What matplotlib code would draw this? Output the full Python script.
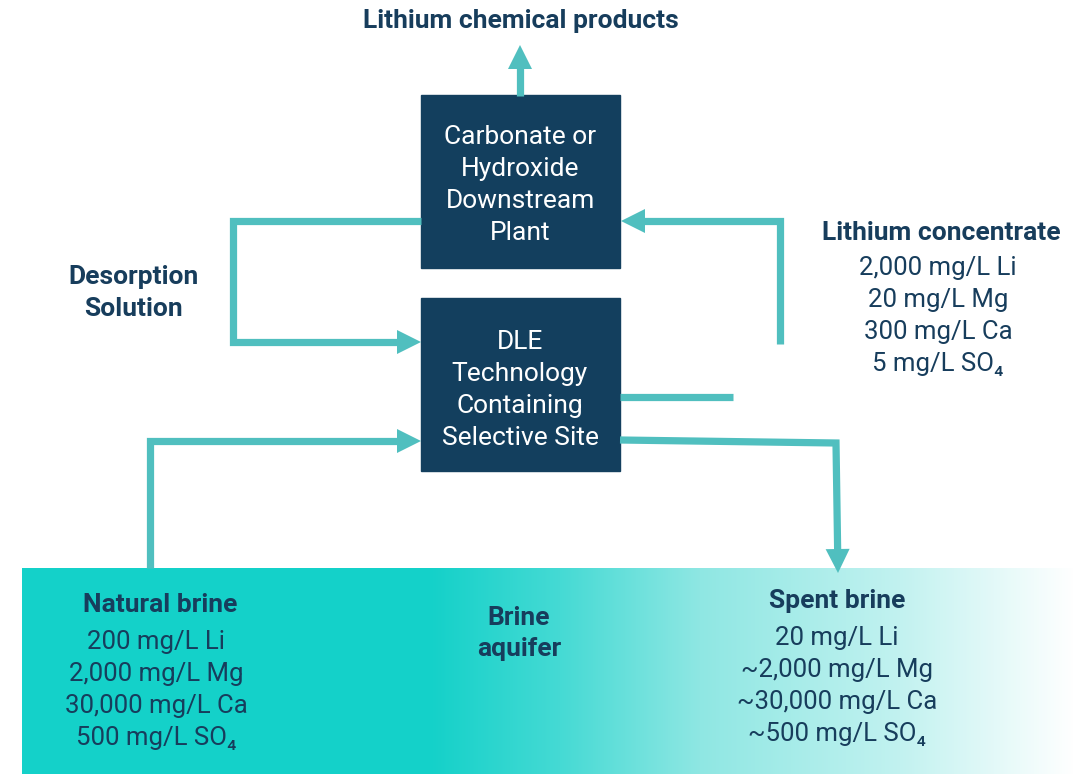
import numpy as np
import matplotlib.pyplot as plt
from matplotlib.patches import Rectangle, Polygon
from matplotlib.colors import to_rgb

# cores
azul = "#133f5e"
teal = "#50bfbf"
txt = "#173d5c"

# textos
titulo = "Lithium chemical products"
caixa_topo = ["Carbonate or", "Hydroxide", "Downstream", "Plant"]
caixa_dle = ["DLE", "Technology", "Containing", "Selective Site"]
desorcao = ["Desorption", "Solution"]
conc_titulo = "Lithium concentrate"
conc_linhas = ["2,000 mg/L Li", "20 mg/L Mg", "300 mg/L Ca", "5 mg/L SO\u2084"]
nat_titulo = "Natural brine"
nat_linhas = ["200 mg/L Li", "2,000 mg/L Mg", "30,000 mg/L Ca", "500 mg/L SO\u2084"]
aquifero = ["Brine", "aquifer"]
spent_titulo = "Spent brine"
spent_linhas = ["20 mg/L Li", "~2,000 mg/L Mg", "~30,000 mg/L Ca", "~500 mg/L SO\u2084"]

# caminhos das setas (pixels)
seta_produto = [(520, 96), (520, 45)]
seta_desorcao = [(421, 221), (233, 221), (233, 342), (421, 342)]
seta_natural = [(150, 568), (150, 441), (421, 441)]
seta_conc = [(780, 344), (780, 221), (621, 221)]
linha_curta = [(620, 397), (733, 397)]
seta_spent = [(620, 440), (836, 443), (838, 573)]

# gradiente da faixa de salmoura
grad_x = [22, 430, 560, 700, 900, 1073]
grad_cor = ["#14d1c9", "#14d1c9", "#45dad4", "#8fe7e3", "#c2f2f0", "#ffffff"]

plt.rcParams['font.family'] = ['Roboto', 'DejaVu Sans']

fig = plt.figure(figsize=(10.73, 7.74), dpi=100)
ax = fig.add_axes([0, 0, 1, 1])
ax.set_xlim(0, 1073)
ax.set_ylim(774, 0)
ax.axis("off")

# faixa com gradiente
xs = np.arange(22, 1073)
cores = np.array([to_rgb(c) for c in grad_cor])
img = np.stack([np.interp(xs, grad_x, cores[:, k]) for k in range(3)], axis=-1)
img = img[np.newaxis, :, :]
ax.imshow(img, extent=(22, 1073, 774, 568), aspect="auto", zorder=0)

# caixas
ax.add_patch(Rectangle((421, 95), 199, 173, color=azul, zorder=2))
ax.add_patch(Rectangle((421, 298), 199, 173, color=azul, zorder=2))


def flecha(path, cabeca=True, L=24, W=12):
    pts = np.array(path, dtype=float)
    if cabeca:
        p1, p2 = pts[-2], pts[-1]
        d = (p2 - p1) / np.linalg.norm(p2 - p1)
        base = p2 - d * L
        n = np.array([-d[1], d[0]])
        pts_linha = np.vstack([pts[:-1], base + d * 2])
        ax.add_patch(Polygon([p2, base + n * W, base - n * W], closed=True,
                             color=teal, lw=0, zorder=3))
    else:
        pts_linha = pts
    ax.plot(pts_linha[:, 0], pts_linha[:, 1], color=teal, lw=5.2,
            solid_joinstyle="miter", solid_capstyle="butt", zorder=3)


flecha(seta_produto)
flecha(seta_desorcao)
flecha(seta_natural)
flecha(seta_conc)
flecha(linha_curta, cabeca=False)
flecha(seta_spent)


def bloco(x, y, linhas, passo=32, cor=txt, peso="normal", tam=18.5):
    for i, s in enumerate(linhas):
        ax.text(x, y + 2 + i * passo, s, ha="center", va="center", color=cor,
                fontsize=tam, fontweight=peso)


bloco(521, 19, [titulo], peso="bold", tam=19)
bloco(520, 135, caixa_topo, cor="white", tam=19)
bloco(520, 340, caixa_dle, cor="white", tam=19)
bloco(133, 275, desorcao, peso="bold", tam=19)

bloco(941, 231, [conc_titulo], peso="bold", tam=19)
bloco(938, 266, conc_linhas)

bloco(160, 603, [nat_titulo], peso="bold", tam=19)
bloco(156, 640, nat_linhas)

bloco(519, 616, aquifero, passo=31, peso="bold", tam=19)

bloco(837, 599, [spent_titulo], peso="bold", tam=19)
bloco(837, 636, spent_linhas)

fig.savefig("out.png", dpi=100)
